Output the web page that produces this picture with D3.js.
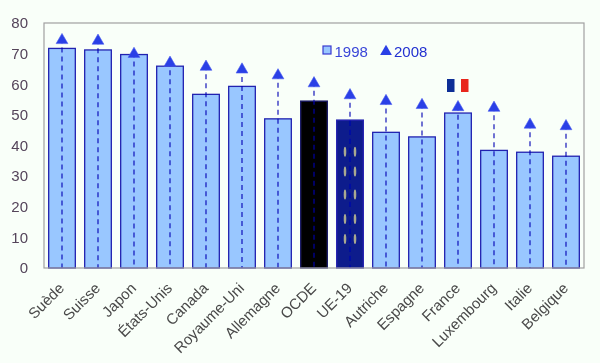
<!DOCTYPE html>
<html>
<head>
<meta charset="utf-8">
<script src="https://cdnjs.cloudflare.com/ajax/libs/d3/7.8.5/d3.min.js"></script>
<style>
  html, body { margin: 0; padding: 0; background: #f9fff9; }
  svg { display: block; font-family: "Liberation Sans", Arial, sans-serif; }
</style>
</head>
<body>
<div id="container"></div>
<script>
let w = 600;
let h = 363;

// DATA
let countries = ["Suède", "Suisse", "Japon", "États-Unis", "Canada", "Royaume-Uni", "Allemagne", "OCDE", "UE-19", "Autriche", "Espagne", "France", "Luxembourg", "Italie", "Belgique"];
let values1998 = [71.7, 71.2, 69.7, 65.9, 56.7, 59.3, 48.7, 54.5, 48.3, 44.3, 42.8, 50.6, 38.4, 37.8, 36.5];
let values2008 = [74.9, 74.7, 70.4, 67.5, 66.2, 65.3, 63.4, 60.8, 56.9, 55, 53.7, 53, 52.8, 47.3, 46.8];
let yTicks = [0, 10, 20, 30, 40, 50, 60, 70, 80];
// the little stars on the UE-19 bar, as [side, value]
let starRows = [[-1, 38], [1, 38], [-1, 31.5], [1, 31.5], [-1, 24], [1, 24], [-1, 16], [1, 16], [-1, 9.5], [1, 9.5]];

let left = 44, right = 584, top_ = 23, bottom = 268;

let svg = d3.select("#container").append("svg")
    .attr("width", w)
    .attr("height", h)
;

// the reference is a soft low-res image, so blur everything a touch
svg.append("defs").append("filter")
    .attr("id", "soft")
    .attr("x", 0).attr("y", 0).attr("width", 1).attr("height", 1)
    .attr("filterUnits", "objectBoundingBox")
  .append("feGaussianBlur")
    .attr("stdDeviation", 0.4)
;
let viz = svg.append("g").attr("filter", "url(#soft)");
viz.append("rect").attr("width", w).attr("height", h).attr("fill", "#f9fff9");

// SCALES
let xScale = d3.scaleBand().domain(countries).range([left, right]).paddingInner(0.26).paddingOuter(0.13);
let yScale = d3.scaleLinear().domain([0, 80]).range([bottom, top_]);
let center = function(d){ return xScale(d) + xScale.bandwidth() / 2; };

// BARS
viz.selectAll(".bar").data(countries).enter()
  .append("rect")
    .attr("class", "bar")
    .attr("x", function(d){ return xScale(d); })
    .attr("y", function(d, i){ return yScale(values1998[i]); })
    .attr("width", xScale.bandwidth())
    .attr("height", function(d, i){ return bottom - yScale(values1998[i]); })
    .attr("fill", function(d){
      if (d == "OCDE") return "#000000";
      if (d == "UE-19") return "#0b1a8c";
      return "#99c7ff";
    })
    .attr("stroke", function(d){
      if (d == "OCDE") return "#1a1a66";
      return "#2222b0";
    })
    .attr("stroke-width", 1.3)
;

// stars of the UE-19 bar
viz.selectAll(".star").data(starRows).enter()
  .append("ellipse")
    .attr("class", "star")
    .attr("cx", function(d){ return center("UE-19") + d[0] * 5; })
    .attr("cy", function(d){ return yScale(d[1]); })
    .attr("rx", 1.3)
    .attr("ry", 5)
    .attr("fill", "#a8a890")
;

// DROP LINES
viz.selectAll(".drop").data(countries).enter()
  .append("line")
    .attr("class", "drop")
    .attr("x1", center)
    .attr("x2", center)
    .attr("y1", function(d, i){ return yScale(values2008[i]); })
    .attr("y2", bottom)
    .attr("stroke", "#0000b4")
    .attr("stroke-width", 1.1)
    .attr("stroke-dasharray", "5,4")
;

// TRIANGLES (shifted so the middle of the shape sits on the value)
let triangle = d3.symbol().type(d3.symbolTriangle).size(60);
viz.selectAll(".tri").data(countries).enter()
  .append("path")
    .attr("class", "tri")
    .attr("d", triangle)
    .attr("transform", function(d, i){ return "translate(" + center(d) + "," + (yScale(values2008[i]) + 1.6) + ")"; })
    .attr("fill", "#2b3fe6")
    .attr("stroke", "#4a5cf0")
    .attr("stroke-width", 0.6)
;

// FRAME
viz.append("rect")
    .attr("x", left)
    .attr("y", top_)
    .attr("width", right - left)
    .attr("height", bottom - top_)
    .attr("fill", "none")
    .attr("stroke", "#a0a0a0")
    .attr("stroke-width", 1.2)
;

// AXES
let yAxis = d3.axisLeft(yScale).tickValues(yTicks).tickSize(0).tickPadding(16);
let yG = viz.append("g").attr("transform", "translate(" + left + ",0)").call(yAxis);
yG.select(".domain").remove();
yG.selectAll("text")
    .attr("font-size", 15)
    .attr("font-family", "Liberation Sans")
    .attr("fill", "#54445a")
;

let xAxis = d3.axisBottom(xScale).tickSize(0);
let xG = viz.append("g").attr("transform", "translate(0," + bottom + ")").call(xAxis);
xG.select(".domain").remove();
xG.selectAll("text")
    .attr("font-size", 15)
    .attr("font-family", "Liberation Sans")
    .attr("fill", "#484848")
    .attr("text-anchor", "end")
    .attr("dy", 0)
    .attr("transform", "translate(1,19) rotate(-45)")
;

// LEGEND
let legend = viz.append("g");
legend.append("rect")
    .attr("x", 323).attr("y", 46)
    .attr("width", 8).attr("height", 8)
    .attr("fill", "#99c7ff")
    .attr("stroke", "#3a3ad0")
    .attr("stroke-width", 1.2)
;
legend.append("text")
    .attr("x", 334.5).attr("y", 56.5)
    .attr("font-size", 15)
    .attr("fill", "#3a46d8")
    .text("1998")
;
legend.append("path")
    .attr("d", triangle)
    .attr("transform", "translate(386,51.5)")
    .attr("fill", "#2b3fe6")
;
legend.append("text")
    .attr("x", 394).attr("y", 56.5)
    .attr("font-size", 15)
    .attr("fill", "#2230d0")
    .text("2008")
;

// FLAG above France
let flagX = center("France");
viz.append("rect").attr("x", flagX - 11).attr("y", 79).attr("width", 7.5).attr("height", 13).attr("fill", "#0a2f96");
viz.append("rect").attr("x", flagX + 3).attr("y", 79).attr("width", 7.5).attr("height", 13).attr("fill", "#e8261c");
</script>
</body>
</html>
